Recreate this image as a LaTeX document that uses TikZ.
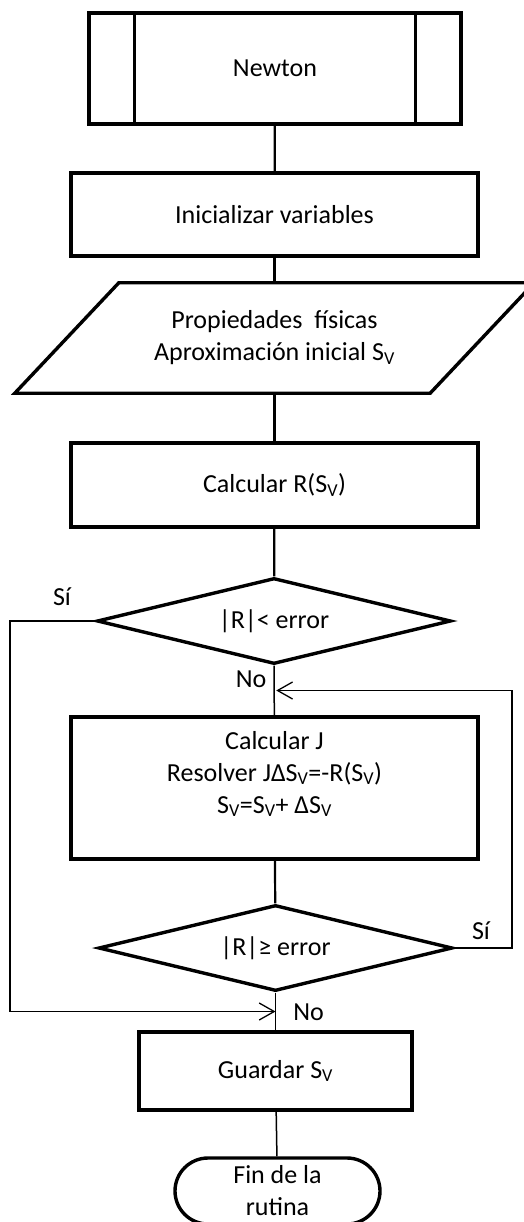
\documentclass[tikz,border=0pt]{standalone}
\usepackage{fontspec}
\setmainfont{Carlito}
\usetikzlibrary{arrows.meta, shapes.geometric, calc}

\begin{document}
\begin{tikzpicture}[x=1pt, y=-1pt, >={Straight Barb[length=15pt, width=17pt]},
  every node/.style={font=\fontsize{26}{32}\selectfont, inner sep=0pt},
  box/.style={draw, line width=3.4pt, minimum width=407pt, minimum height=83pt, align=center},
  decision/.style={draw, diamond, aspect=4.1, line width=3.4pt, minimum width=354pt, minimum height=86pt},
  flow/.style={line width=2.2pt},
  thinflow/.style={line width=1.5pt},
  loopline/.style={line width=1.3pt}]

\useasboundingbox (0,0) rectangle (523,1222);

% Start (subroutine Newton)
\node[box, minimum width=372pt, minimum height=111pt] (newton) at (275,68.5) {Newton};
\draw[line width=3.4pt] ([xshift=47pt]newton.north west) -- ([xshift=47pt]newton.south west);
\draw[line width=3.4pt] ([xshift=-47pt]newton.north east) -- ([xshift=-47pt]newton.south east);

\node[box] (init) at (274.5,214.5) {Inicializar variables};

% Input data (parallelogram)
\node[minimum width=311pt, minimum height=110pt, align=center] (props) at (274.5,338) {Propiedades~ físicas\\Aproximación inicial S\textsubscript{V}};
\draw[line width=3.4pt] (props.north west) -- ([xshift=104pt]props.north east) -- (props.south east) -- ([xshift=-104pt]props.south west) -- cycle;

\node[box, minimum height=84pt] (calcR) at (274.5,485) {Calcular R(S\textsubscript{V})};

% First test
\node[decision] (dec1) at (274,621) {|R|< error};

% Newton step
\node[box, minimum height=142pt] (calcJ) at (274.5,788) {Calcular J\\Resolver JΔS\textsubscript{V}=-R(S\textsubscript{V})\\S\textsubscript{V}=S\textsubscript{V}+ ΔS\textsubscript{V}\hspace*{34pt}\\\mbox{}};

% Second test
\node[decision] (dec2) at (275.5,948) {|R|≥ error};

% End
\node[box, minimum width=273pt, minimum height=78pt] (save) at (275.5,1071) {Guardar S\textsubscript{V}};
\node[draw, line width=3.4pt, rounded corners=33pt, minimum width=205pt, minimum height=66pt, align=center] (fin) at (277.5,1191) {Fin de la\\rutina};

% Main flow
\draw[flow] (newton) -- (init);
\draw[flow] (init) -- (props);
\draw[flow] (props) -- (calcR);
\draw[flow] (calcR) -- (dec1);
\draw[thinflow] (dec1) -- (calcJ);
\draw[flow] (calcJ) -- (dec2);
\draw[thinflow] (dec2) -- (save);
\draw[thinflow] (save) -- (fin);

% Loops
\coordinate (m1) at ($(dec1.south)!0.5!(calcJ.north)$);
\coordinate (m2) at ($(dec2.south)!0.5!(save.north)$);
\coordinate (lc) at (10,621);
\coordinate (rc) at (512,948);
\draw[loopline, ->] (dec1.west) -- (lc) |- (m2);
\draw[loopline, ->, shorten >=2pt] (dec2.east) -- (rc) |- (m1);

% Labels
\node[anchor=base] (si1) at (62,605) {Sí};
\node[anchor=base] (no1) at (251,687) {No};
\node[anchor=base] (si2) at (481,939) {Sí};
\node[anchor=base] (no2) at (308.5,1020) {No};

\end{tikzpicture}
\end{document}
